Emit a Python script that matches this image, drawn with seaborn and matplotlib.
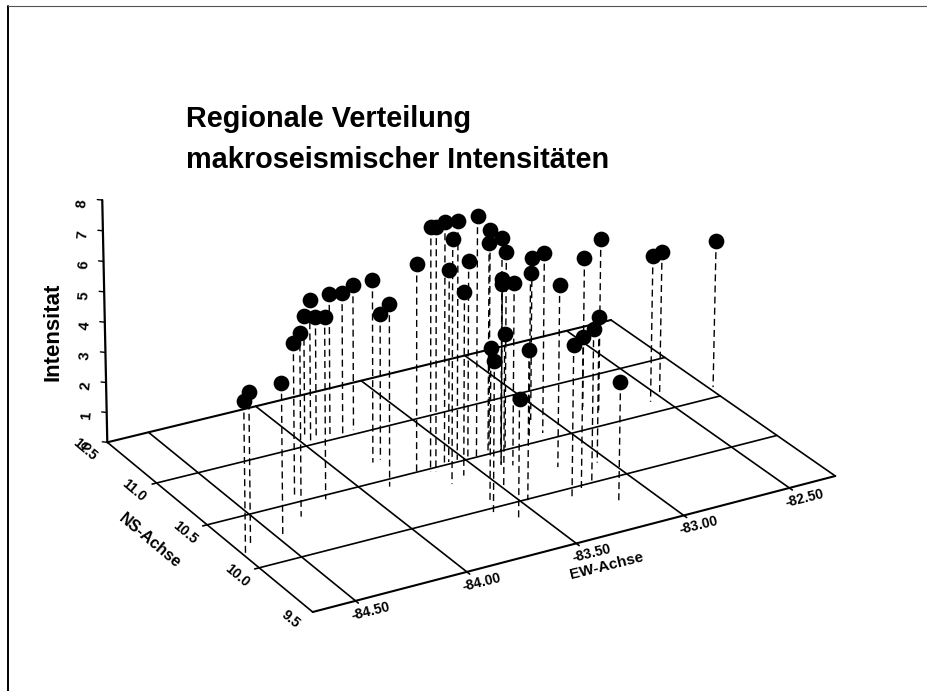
import numpy as np
import pandas as pd
import seaborn as sns
import matplotlib
matplotlib.use('Agg')
import matplotlib.pyplot as plt

# values
ew = [-84.69, -84.63, -84.48, -84.26, -84.33, -83.96, -83.98, -83.93, -84.17, -83.88, -83.83, -83.76, -83.84,
      -83.80, -83.89, -83.73, -83.68, -83.66, -83.60, -83.53, -83.66, -83.57, -83.48, -83.58, -83.46, -83.35,
      -83.34, -83.38, -83.32, -83.40, -83.40, -83.36, -83.18, -83.08, -83.10, -83.21, -83.49, -83.61, -83.65,
      -83.47, -83.59, -82.83, -82.79, -82.56, -82.50, -82.26, -83.05, -83.16, -83.23, -83.30, -83.16]
ns = [10.13, 10.21, 10.22, 10.57, 10.36, 11.10, 11.00, 11.05, 10.46, 11.02, 11.00, 11.04, 10.69,
      10.70, 10.43, 10.50, 10.47, 10.46, 10.50, 10.52, 10.31, 10.52, 10.52, 10.36, 10.48, 10.58,
      10.49, 10.53, 10.49, 10.37, 10.37, 10.34, 10.54, 10.72, 10.57, 10.22, 10.17, 10.06, 9.95,
      9.99, 9.84, 10.72, 10.65, 10.61, 10.64, 10.60, 10.17, 10.01, 9.97, 9.92, 9.77]
intensity = [5.0, 5.0, 5.0, 4.98, 5.96, 3.98, 4.81, 4.03, 5.97, 4.8, 4.79, 4.83, 6.01,
             4.8, 5.98, 6.82, 8.01, 8.01, 7.97, 7.84, 8.0, 6.31, 6.48, 6.02, 7.99, 7.1,
             7.07, 6.85, 6.58, 6.13, 5.97, 6.0, 5.52, 5.41, 5.99, 6.0, 5.01, 5.02, 4.98,
             4.91, 3.92, 4.98, 5.74, 4.88, 4.86, 4.92, 4.8, 5.01, 4.99, 4.97, 3.91]

ew_ticks = [-84.50, -84.00, -83.50, -83.00, -82.50]
ns_ticks = [9.5, 10.0, 10.5, 11.0, 11.5]
z_ticks = [0, 1, 2, 3, 4, 5, 6, 7, 8]

EW_MIN, EW_MAX = -84.69, -82.28
NS_MIN, NS_MAX = 9.5, 11.5

# camera: floor corners on the canvas, plus the vanishing point of the vertical axis
corners = [(EW_MIN, NS_MIN, 312.7, 612), (EW_MAX, NS_MIN, 835.3, 476),
           (EW_MAX, NS_MAX, 611, 320), (EW_MIN, NS_MAX, 107.3, 442.3)]
A, b = [], []
for e, n, u, v in corners:
    A.append([e, n, 1, 0, 0, 0, -u * e, -u * n])
    A.append([0, 0, 0, e, n, 1, -v * e, -v * n])
    b += [u, v]
H = np.append(np.linalg.solve(np.array(A), np.array(b)), 1).reshape(3, 3)
zc = -0.002046 * (H[2] @ [EW_MIN, NS_MAX, 1]) * np.array([410, 15000, 1])


def project(e, n, z=0):
    q = H @ np.array([e, n, 1]) + z * zc
    return q[0] / q[2], q[1] / q[2]


sns.set_style('white')
plt.rcParams['font.family'] = ['Liberation Sans', 'DejaVu Sans']
plt.rcParams['font.weight'] = 'bold'
plt.rcParams['text.color'] = 'black'
plt.rcParams['lines.scale_dashes'] = False
plt.rcParams['lines.solid_capstyle'] = 'round'

fig = plt.figure(figsize=(9.28, 6.91), dpi=100)
ax = fig.add_axes([0, 0, 1, 1])

# page frame
ax.plot([8, 8], [6, 691], color='black', lw=1.4)
ax.plot([8, 928], [6.3, 6.3], color='#555555', lw=0.8)


def floor_line(p, q, lw=1.2):
    pts = np.array([project(*p), project(*q)])
    ax.plot(pts[:, 0], pts[:, 1], color='black', lw=lw, zorder=2)


# floor grid and edges
for e in ew_ticks:
    floor_line((e, NS_MIN - 0.025), (e, NS_MAX))
for n in ns_ticks[1:-1]:
    floor_line((EW_MIN - 0.02, n), (EW_MAX, n))
floor_line((EW_MIN, NS_MIN), (EW_MAX, NS_MIN), lw=1.5)
floor_line((EW_MIN, NS_MAX), (EW_MAX, NS_MAX), lw=1.5)
floor_line((EW_MIN, NS_MIN), (EW_MIN, NS_MAX))
floor_line((EW_MAX, NS_MIN), (EW_MAX, NS_MAX))

# vertical axis
x0, y0 = project(EW_MIN, NS_MAX, 0)
x8, y8 = project(EW_MIN, NS_MAX, 8)
ax.plot([x0, x8], [y0, y8], color='black', lw=1.6, zorder=2)
for z in z_ticks:
    x, y = project(EW_MIN, NS_MAX, z)
    ax.plot([x - 5, x], [y - 0.5, y], color='black', lw=1, zorder=2)
    ax.text(x - 20, y + 3.5, str(z), rotation=85, fontsize=10.5, ha='center', va='center')

for e in ew_ticks:
    x, y = project(e, NS_MIN)
    ax.text(x + 15, y + 10, '%.2f' % e, rotation=14, fontsize=10, ha='center', va='center',
            rotation_mode='anchor')
for n in ns_ticks:
    x, y = project(EW_MIN, n)
    ax.text(x - 22.5, y + 7.5, '%.1f' % n, rotation=-40, fontsize=10, ha='center', va='center',
            rotation_mode='anchor')

# points with their drop lines
rows = []
for i, (e, n, z) in enumerate(zip(ew, ns, intensity)):
    fx, fy = project(e, n)
    tx, ty = project(e, n, z)
    rows.append({'id': i, 'x': tx, 'y': ty, 'level': 'top'})
    rows.append({'id': i, 'x': fx, 'y': fy, 'level': 'floor'})
df = pd.DataFrame(rows)

sns.lineplot(data=df, x='x', y='y', units='id', estimator=None, sort=False, color='black',
             lw=1.0, linestyle=(0, (5, 3)), legend=False, zorder=3, ax=ax)
sns.scatterplot(data=df[df['level'] == 'top'], x='x', y='y', color='black', s=128, linewidth=0,
                legend=False, zorder=4, ax=ax)
ax.set_xlim(0, 928)
ax.set_ylim(691, 0)
ax.axis('off')

ax.text(186, 127, 'Regionale Verteilung', fontsize=20.8, ha='left', va='baseline')
ax.text(186, 168, 'makroseismischer Intensitäten', fontsize=20.8, ha='left', va='baseline')
ax.text(53, 332, 'Intensitat', rotation=90, fontsize=16, ha='center', va='center')
ax.text(150, 541, 'NS-Achse', rotation=-40, fontsize=11.5, ha='center', va='center', rotation_mode='anchor')
ax.text(607, 566, 'EW-Achse', rotation=14, fontsize=11, ha='center', va='center', rotation_mode='anchor')

fig.savefig('out.png', dpi=100)
